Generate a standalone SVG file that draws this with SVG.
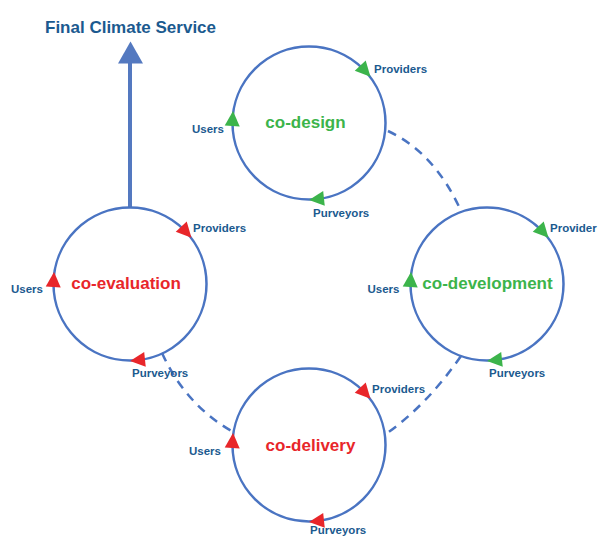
<svg xmlns="http://www.w3.org/2000/svg" width="598" height="537" viewBox="0 0 598 537">
<defs>
<style>
.ring{fill:none;stroke:#4a74c2;stroke-width:2.5}
.dash{fill:none;stroke:#4a74c2;stroke-width:2.5;stroke-dasharray:9 7}
.lbl{font-family:"Liberation Sans",Arial,sans-serif;font-weight:bold;font-size:11.5px;fill:#1b5a8f}
.title{font-family:"Liberation Sans",Arial,sans-serif;font-weight:bold;font-size:17px;fill:#1b5a8f}
.ctr{font-family:"Liberation Sans",Arial,sans-serif;font-weight:bold;font-size:17px;text-anchor:middle}
.g{fill:#3cb44b}
.r{fill:#e8262a}
</style>
<path id="tri" d="M8,0 L-7,-7.5 L-7,7.5 Z"/>
</defs>
<rect width="598" height="537" fill="#ffffff"/>

<g id="connectors">
<path class="dash" d="M388,131 Q435,153 461,211"/>
<path class="dash" d="M461,356 Q427,405 386,434"/>
<path class="dash" d="M162,353 Q186,406 235,433"/>
<line x1="130" y1="207" x2="130" y2="62" stroke="#5479c0" stroke-width="4"/>
<polygon points="118,63.5 143,63.5 130.5,41.5" fill="#5479c0"/>
</g>

<g id="title">
<text class="title" x="45" y="33">Final Climate Service</text>
</g>

<g id="co-design">
<circle class="ring" cx="309" cy="123" r="76.5"/>
<use href="#tri" class="g" transform="translate(365,70.8) rotate(47)"/>
<use href="#tri" class="g" transform="translate(232.6,119) rotate(273)"/>
<use href="#tri" class="g" transform="translate(317,199.1) rotate(174)"/>
<text class="ctr g" x="305.5" y="128">co-design</text>
<text class="lbl" x="374" y="73">Providers</text>
<text class="lbl" x="192" y="133">Users</text>
<text class="lbl" x="313" y="217">Purveyors</text>
</g>

<g id="co-development">
<circle class="ring" cx="487" cy="284" r="76.5"/>
<use href="#tri" class="g" transform="translate(543,231.8) rotate(47)"/>
<use href="#tri" class="g" transform="translate(410.6,280) rotate(273)"/>
<use href="#tri" class="g" transform="translate(495,360.1) rotate(174)"/>
<text class="ctr g" x="487.5" y="289">co-development</text>
<text class="lbl" x="550" y="231.5">Provider</text>
<text class="lbl" x="367.5" y="293">Users</text>
<text class="lbl" x="489" y="376.5">Purveyors</text>
</g>

<g id="co-evaluation">
<circle class="ring" cx="130" cy="284" r="76.5"/>
<use href="#tri" class="r" transform="translate(186,231.8) rotate(47)"/>
<use href="#tri" class="r" transform="translate(53.6,280) rotate(273)"/>
<use href="#tri" class="r" transform="translate(138,360.1) rotate(174)"/>
<text class="ctr r" x="126" y="289">co-evaluation</text>
<text class="lbl" x="193" y="231.5">Providers</text>
<text class="lbl" x="11" y="293">Users</text>
<text class="lbl" x="132" y="376.5">Purveyors</text>
</g>

<g id="co-delivery">
<circle class="ring" cx="309" cy="445" r="76.5"/>
<use href="#tri" class="r" transform="translate(365,392.8) rotate(47)"/>
<use href="#tri" class="r" transform="translate(232.6,441) rotate(273)"/>
<use href="#tri" class="r" transform="translate(317,521.1) rotate(174)"/>
<text class="ctr r" x="310.5" y="451">co-delivery</text>
<text class="lbl" x="372" y="393">Providers</text>
<text class="lbl" x="189" y="455">Users</text>
<text class="lbl" x="310" y="534">Purveyors</text>
</g>
</svg>
